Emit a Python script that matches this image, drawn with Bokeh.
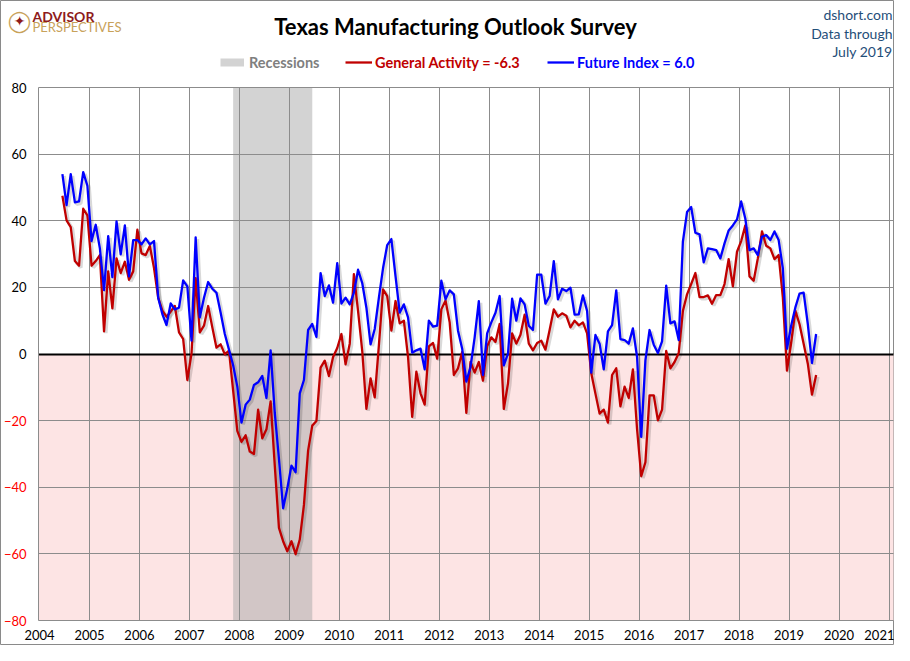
import numpy as np
import pandas as pd
from bokeh.plotting import figure
from bokeh.models import (Label, FixedTicker, Range1d, Legend, LegendItem,
                          LinearAxis, Grid)
from bokeh.embed import file_html
from bokeh.resources import INLINE

# ---------------- data ----------------
start_month = "2004-06"

general_activity = [
    47.5, 40.1, 38.1, 27.9, 26.5, 43.6, 41.6,                                  # 2004 Jun-Dec
    26.5, 27.9, 29.7, 6.8, 24.8, 13.7, 28.7, 24.3, 27.7, 22.3, 24.8, 37.3,     # 2005
    30.2, 29.7, 32.4, 25.8, 16.9, 13.0, 11.2, 12.7, 14.4, 6.5, 4.5, -7.8,      # 2006
    0.1, 22.8, 6.5, 8.5, 14.4, 8.0, 1.9, 2.9, -0.1, 1.0, -11.0, -23.1,         # 2007
    -26.4, -24.4, -29.3, -30.0, -16.7, -25.3, -22.6, -14.2, -33.5, -52.2, -56.2, -59.2,  # 2008
    -56.2, -60.1, -55.7, -45.3, -29.0, -21.5, -20.1, -4.1, -2.0, -6.6, -0.9, 1.8,        # 2009
    6.0, -3.1, 3.1, 24.0, 12.9, 0.9, -16.5, -7.3, -13.0, 2.6, 19.4, 17.4,      # 2010
    7.0, 15.9, 9.2, 10.0, -0.9, -18.9, -5.3, -11.8, -15.2, 2.3, 3.3, -1.4,     # 2011
    13.4, 16.1, 9.5, -6.3, -4.3, 0.6, -17.7, -2.4, -5.6, -2.4, -8.0, 2.3,      # 2012
    5.0, 3.6, 9.0, -16.5, -8.8, 6.2, 3.1, 5.8, 11.8, 3.1, 1.1, 3.3,            # 2013
    4.0, 1.3, 7.2, 13.4, 11.2, 12.2, 11.5, 8.0, 10.0, 8.6, 9.5, 6.2,           # 2014
    -5.8, -11.9, -17.9, -16.7, -20.6, -6.3, -4.3, -15.7, -9.8, -13.2, -4.6, -22.6,  # 2015
    -36.7, -32.5, -12.4, -12.4, -19.9, -16.7, 0.9, -4.3, -2.4, 0.3, 12.9, 17.9,     # 2016
    21.0, 24.3, 17.1, 17.1, 17.6, 15.1, 17.7, 17.7, 21.0, 28.5, 20.3, 30.7,    # 2017
    33.9, 38.6, 23.3, 22.0, 28.7, 36.8, 32.5, 31.7, 28.5, 29.7, 17.1, -5.0,    # 2018
    3.3, 13.0, 9.0, 3.1, -2.9, -12.2, -6.3,                                    # 2019 Jan-Jul
]

future_index = [
    54.0, 44.7, 54.0, 45.5, 45.8, 54.6, 50.5,                                  # 2004 Jun-Dec
    33.9, 38.8, 31.7, 19.2, 35.4, 23.1, 39.8, 29.9, 38.6, 23.3, 34.2, 34.2,    # 2005
    32.9, 34.7, 32.9, 33.9, 16.9, 12.0, 8.7, 15.2, 13.4, 13.9, 22.1, 20.3,     # 2006
    4.0, 35.0, 11.0, 16.9, 21.6, 19.6, 18.4, 12.4, 6.0, 1.3, -3.4, -9.8,       # 2007
    -20.6, -15.2, -13.7, -9.3, -8.5, -6.6, -13.2, 1.1, -17.7, -31.5, -46.3, -40.4,  # 2008
    -33.5, -35.5, -11.8, -7.8, 7.2, 9.0, 5.1, 24.3, 17.4, 20.6, 15.4, 27.3,    # 2009
    15.1, 16.9, 14.9, 18.4, 25.3, 21.3, 13.9, 2.9, 7.5, 16.9, 25.8, 32.7,      # 2010
    34.5, 23.3, 12.4, 14.9, 11.0, 0.4, 1.1, 1.6, -4.6, 10.0, 8.2, 8.5,         # 2011
    22.0, 16.4, 19.1, 17.9, 7.0, 1.6, -8.3, -3.9, 5.0, 15.9, -6.3, 6.2,        # 2012
    9.5, 12.4, 17.4, -3.4, 0.1, 16.6, 10.0, 16.7, 14.9, 8.5, 7.2, 23.8,        # 2013
    23.8, 15.1, 17.4, 27.9, 16.4, 19.6, 18.9, 19.9, 11.8, 11.9, 17.6, 12.9,    # 2014
    -5.6, 5.7, 3.1, -4.6, 6.8, 8.7, 19.1, 4.5, 4.2, 3.1, 7.7, -0.9,            # 2015
    -24.9, -1.9, 7.2, 2.8, 0.3, 3.8, 20.5, 9.2, 9.8, 4.2, 33.7, 42.6,          # 2016
    44.1, 36.4, 35.9, 27.5, 31.7, 31.5, 31.2, 28.7, 33.2, 37.1, 38.6, 40.4,    # 2017
    45.8, 40.6, 31.2, 31.7, 29.7, 35.2, 35.7, 34.2, 36.8, 34.2, 25.8, 1.6,     # 2018
    8.5, 13.9, 18.1, 18.4, 9.0, -2.7, 6.0,                                     # 2019 Jan-Jul
]

recession_start = "2007-12"
recession_end = "2009-06"

x_ticks = list(range(2004, 2022))
y_ticks = list(range(-80, 81, 20))

# ---------------- derived x positions ----------------
months = pd.period_range(start_month, periods=len(general_activity), freq="M")
xm = np.asarray(months.year + (months.month - 0.5) / 12.0, dtype=float)
rs = pd.Period(recession_start, freq="M")
re_ = pd.Period(recession_end, freq="M")
rec_left = rs.year + (rs.month - 1) / 12.0 - 1 / 24.0
rec_right = re_.year + (re_.month - 1) / 12.0 + 1 / 24.0

# ---------------- geometry (page pixels) ----------------
FONT = "Lato"
GRID = "#8c8c8c"
RED = "#C00000"
BLUE = "#0000FF"
NAVY = "#1F4E79"

W, H = 894, 645
X0, X1 = 2003.98, 2021.09
Y0, Y1 = -80, 80
PX_L, PX_R, PX_T, PX_B = 38, 893, 87, 620

sx = (PX_R - PX_L) / (X1 - X0)
sy = (PX_B - PX_T) / (Y1 - Y0)


def dx(px):
    return X0 + (px - PX_L) / sx


def dy(py):
    return Y1 - (py - PX_T) / sy


p = figure(width=W, height=H,
           x_range=Range1d(dx(0), dx(W)), y_range=Range1d(dy(H), dy(0)),
           output_backend="svg", toolbar_location=None, min_border=0,
           x_axis_type=None, y_axis_type=None)
p.outline_line_color = "#8a8a8a"
p.outline_line_width = 1
p.background_fill_color = "white"
p.border_fill_color = "white"

# backgrounds: negative zone and recession band
p.quad(left=[X0], right=[X1], top=[0], bottom=[Y0], fill_color="#FDE4E4",
       line_color=None, level="image")
p.quad(left=[rec_left], right=[rec_right], top=[Y1], bottom=[Y0],
       fill_color="#aaaaaa", fill_alpha=0.52, line_color=None, level="image")

# grids limited to the plot area
has_cb = "cross_bounds" in Grid.properties()
grid_specs = [
    (0, x_ticks[1:], GRID, 1, (Y0, Y1)),
    (1, [t for t in y_ticks if t not in (Y0, 0)], GRID, 1, (X0, X1)),
    (1, [0], "black", 2, (X0, X1)),
]
for dim, ticks, col, lw, cb in grid_specs:
    if has_cb:
        g = Grid(dimension=dim, ticker=FixedTicker(ticks=ticks),
                 grid_line_color=col, grid_line_width=lw, cross_bounds=cb)
        p.add_layout(g)
    else:
        if dim == 0:
            p.segment(x0=ticks, x1=ticks, y0=[cb[0]] * len(ticks),
                      y1=[cb[1]] * len(ticks), line_color=col, line_width=lw)
        else:
            p.segment(y0=ticks, y1=ticks, x0=[cb[0]] * len(ticks),
                      x1=[cb[1]] * len(ticks), line_color=col, line_width=lw)

# axes fixed at the plot-area edges
xaxis = LinearAxis(ticker=FixedTicker(ticks=x_ticks), fixed_location=Y0,
                   bounds=(X0, X1))
ypos = LinearAxis(ticker=FixedTicker(ticks=y_ticks), fixed_location=X0,
                  bounds=(Y0, Y1),
                  major_label_overrides={t: "" for t in y_ticks if t < 0})
yneg = LinearAxis(ticker=FixedTicker(ticks=y_ticks), fixed_location=X0,
                  bounds=(Y0, Y1),
                  major_label_overrides={t: "" for t in y_ticks if t >= 0})
for ax in (xaxis, ypos, yneg):
    ax.axis_line_color = GRID
    ax.major_tick_line_color = None
    ax.minor_tick_line_color = None
    ax.major_tick_out = 0
    ax.major_tick_in = 0
    ax.minor_tick_out = 0
    ax.minor_tick_in = 0
    ax.major_label_text_font = FONT
    ax.major_label_text_font_size = "13px"
    ax.major_label_text_color = "black"
xaxis.major_label_standoff = 9
ypos.major_label_standoff = 12
yneg.major_label_standoff = 12
yneg.axis_line_color = None
yneg.major_label_text_color = "#FF0000"
p.add_layout(xaxis, "below")
p.add_layout(ypos, "left")
p.add_layout(yneg, "left")

# lines with a soft drop shadow
sdx, sdy = 1.8 / sx, 1.8 / sy
p.line(xm + sdx, np.array(general_activity) - sdy, line_color="black",
       line_alpha=0.15, line_width=3.5)
p.line(xm + sdx, np.array(future_index) - sdy, line_color="black",
       line_alpha=0.15, line_width=3.5)
r_ga = p.line(xm, general_activity, line_color=RED, line_width=2.3,
              line_join="round")
r_fi = p.line(xm, future_index, line_color=BLUE, line_width=2.3,
              line_join="round")
# legend swatch for the recession band (thick grey bar, not drawn in plot)
r_rec = p.line(x=[rec_left, rec_right], y=[0, 0], line_color="#d3d3d3",
               line_width=8, visible=False)

# ---------------- legend (one per item so labels keep their colours) -------
legend_specs = [
    ("Recessions", r_rec, "#7f7f7f", 220, 24, 5),
    ("General Activity = %.1f" % general_activity[-1], r_ga, RED, 345, 27, 3),
    ("Future Index = %.1f" % future_index[-1], r_fi, BLUE, 547, 27, 3),
]
for text, rend, col, lx, gw, st in legend_specs:
    lg = Legend(items=[LegendItem(label=text, renderers=[rend])],
                location=(lx, H - 71), orientation="horizontal",
                glyph_width=gw, glyph_height=18, label_standoff=st,
                label_height=18, padding=0, margin=0, spacing=0,
                background_fill_alpha=0, border_line_alpha=0,
                inactive_fill_alpha=0,
                label_text_font=FONT, label_text_font_style="bold",
                label_text_font_size="14.5px", label_text_color=col)
    p.add_layout(lg)


# ---------------- texts ----------------
def lab(px, py, text, size, color, style="normal", align="left", font=FONT):
    p.add_layout(Label(x=dx(px), y=dy(py), text=text, text_font=font,
                       text_font_size=size, text_color=color,
                       text_font_style=style, text_align=align,
                       text_baseline="middle"))


lab(455, 26, "Texas Manufacturing Outlook Survey", "22px", "black", "bold",
    "center")

lab(892, 14, "dshort.com", "14px", NAVY, align="right")
lab(892, 32.5, "Data through", "14px", NAVY, align="right")
lab(892, 50.5, "July 2019", "14px", NAVY, align="right")

# logo
lab(19, 20, "\u25EF", "21px", "#C8A25A", align="center", font="DejaVu Sans")
lab(19, 20, "\u2726", "14px", "#8E1B1B", align="center", font="DejaVu Sans")
lab(32, 15.5, "ADVISOR", "14px", "#8E1B1B", "bold")
lab(32, 26.5, "PERSPECTIVES", "13px", "#C8A25A")

open("out.html", "w").write(file_html(p, INLINE))
